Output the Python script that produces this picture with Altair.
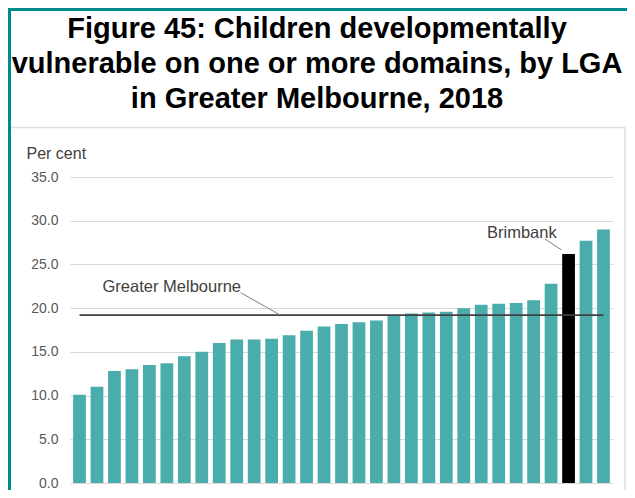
import altair as alt
import pandas as pd

# ---- data ----
lgas = [f"LGA {i:02d}" for i in range(1, 32)]
lgas[28] = "Brimbank"
values = [10.1, 11.0, 12.8, 13.0, 13.5, 13.7, 14.5, 15.0, 16.0, 16.4, 16.4,
          16.5, 16.9, 17.4, 17.9, 18.2, 18.4, 18.6, 19.2, 19.4, 19.5, 19.6,
          20.0, 20.4, 20.5, 20.6, 20.9, 22.8, 26.2, 27.7, 29.0]
highlight = "Brimbank"
avg_label = "Greater Melbourne"
avg_value = 19.2
y_ticks = [0, 5, 10, 15, 20, 25, 30, 35]
title_lines = ["Figure 45: Children developmentally",
               "vulnerable on one or more domains, by LGA",
               "in Greater Melbourne, 2018"]
y_title = "Per cent"

FONT = "Liberation Sans, Arial, Helvetica, sans-serif"
TEAL = "#4bacac"
BORDER = "#008b8b"

df = pd.DataFrame({"lga": lgas, "pct": values})
df["group"] = ["Highlight" if l == highlight else "Other" for l in lgas]

W, H = 543, 306
xscale = alt.Scale(domain=lgas, paddingInner=0.27, paddingOuter=0.18)
yscale = alt.Scale(domain=[0, 35], nice=False)

bars = alt.Chart(df).mark_bar().encode(
    x=alt.X("lga:N", scale=xscale, axis=None, sort=None),
    y=alt.Y("pct:Q", scale=yscale,
            axis=alt.Axis(values=y_ticks, format=".1f", title=y_title,
                          titleAngle=0, titleAlign="left", titleBaseline="alphabetic",
                          titleX=-44, titleY=-19, titleFontSize=16,
                          titleFontWeight="normal", titleColor="#404040",
                          titleFont=FONT, labelFont=FONT, labelFontSize=14,
                          labelColor="#595959", labelPadding=12, ticks=False,
                          domain=False, grid=True, gridColor="#d9d9d9",
                          gridWidth=1)),
    color=alt.Color("group:N",
                    scale=alt.Scale(domain=["Other", "Highlight"],
                                    range=[TEAL, "#000000"]),
                    legend=None),
)

avg_df = pd.DataFrame({"start": [lgas[0]], "end": [lgas[-1]],
                       "v": [avg_value], "label": [avg_label]})

avg_rule = alt.Chart(avg_df).mark_rule(color="#404040", strokeWidth=1.8).encode(
    x=alt.X("start:N", scale=xscale, axis=None),
    x2="end:N",
    y=alt.Y("v:Q", scale=yscale),
)

avg_text = alt.Chart(avg_df).mark_text(
    align="left", baseline="alphabetic", dx=23, dy=-23,
    fontSize=16.5, font=FONT, color="#404040"
).encode(
    x=alt.X("start:N", scale=xscale, axis=None),
    y=alt.Y("v:Q", scale=yscale),
    text="label:N",
)

avg_leader = alt.Chart(avg_df).mark_rule(
    color="#808080", strokeWidth=1,
    xOffset=161, x2Offset=201, yOffset=-22.5, y2Offset=0
).encode(
    x=alt.X("start:N", scale=xscale, axis=None),
    x2="start:N",
    y=alt.Y("v:Q", scale=yscale),
    y2="v:Q",
)

hl_df = df[df["lga"] == highlight]

hl_text = alt.Chart(hl_df).mark_text(
    align="center", baseline="alphabetic", dx=-46.7, dy=-16.3,
    fontSize=16.5, font=FONT, color="#404040"
).encode(
    x=alt.X("lga:N", scale=xscale, axis=None),
    y=alt.Y("pct:Q", scale=yscale),
    text="lga:N",
)

hl_leader = alt.Chart(hl_df).mark_rule(
    color="#808080", strokeWidth=1,
    xOffset=-23.7, x2Offset=-7, yOffset=-15, y2Offset=-4
).encode(
    x=alt.X("lga:N", scale=xscale, axis=None),
    x2="lga:N",
    y=alt.Y("pct:Q", scale=yscale),
    y2="pct:Q",
)

# ---- title and frame decoration ----
one = pd.DataFrame({"k": [0]})

title = alt.Chart(one).mark_text(
    align="center", baseline="alphabetic", fontSize=29, fontWeight="bold",
    font=FONT, color="#000000", lineHeight=35
).encode(x=alt.value(247), y=alt.value(-139.3), text=alt.value(title_lines))

teal_left = alt.Chart(one).mark_rule(color=BORDER, strokeWidth=3).encode(
    x=alt.value(-60.5), x2=alt.value(-60.5), y=alt.value(-169), y2=alt.value(320))
teal_top = alt.Chart(one).mark_rule(color=BORDER, strokeWidth=3).encode(
    x=alt.value(-62), x2=alt.value(560), y=alt.value(-167.5), y2=alt.value(-167.5))
gray_top = alt.Chart(one).mark_rule(color="#dddddd", strokeWidth=1.5).encode(
    x=alt.value(-59), x2=alt.value(555), y=alt.value(-49.5), y2=alt.value(-49.5))
gray_right = alt.Chart(one).mark_rule(color="#dddddd", strokeWidth=1.5).encode(
    x=alt.value(555), x2=alt.value(555), y=alt.value(-49.5), y2=alt.value(320))

chart = alt.layer(
    gray_top, gray_right, teal_left, teal_top,
    bars, avg_rule, avg_leader, avg_text, hl_leader, hl_text, title
).properties(
    width=W, height=H,
    autosize=alt.AutoSizeParams(type="none"),
    padding={"left": 62, "top": 169, "right": 14, "bottom": 7},
    background="white",
).configure_view(stroke=None)

chart.save("out.html", embed_options={"renderer": "svg", "actions": False})
